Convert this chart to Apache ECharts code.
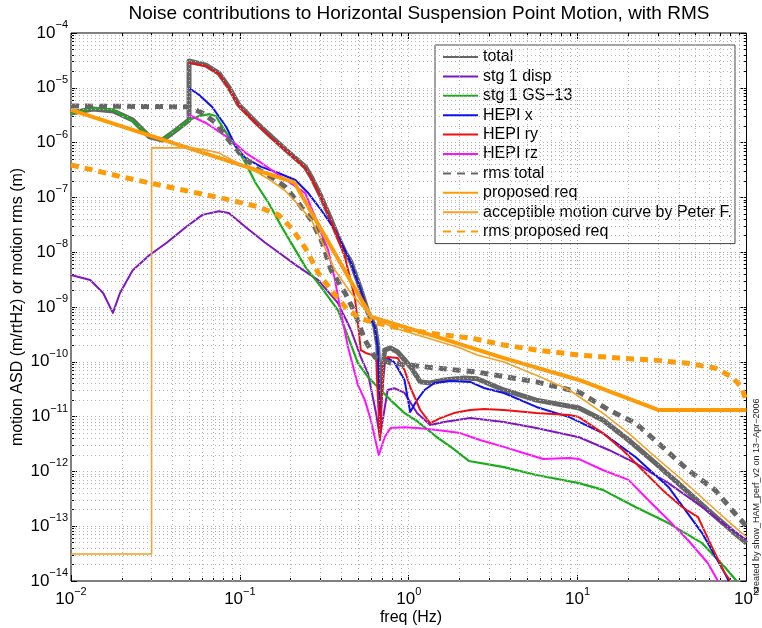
<!DOCTYPE html>
<html><head><meta charset="utf-8">
<script src="https://cdn.jsdelivr.net/npm/echarts@6/dist/echarts.min.js"></script>
<style>html,body{margin:0;padding:0;background:#fff}#c{width:762px;height:628px}</style>
</head><body><div id="c"></div><script>
// ---------- data ----------
const xDecades = [0.01, 0.1, 1, 10, 100];
const yDecades = [1e-14, 1e-13, 1e-12, 1e-11, 1e-10, 1e-9, 1e-8, 1e-7, 1e-6, 1e-5, 1e-4];

const totalF = [0.01,0.0135,0.0178,0.0232,0.0292,0.0348,0.042,0.05,0.05,0.063,0.075,0.086,0.0987,0.124,0.154,0.194,0.244,0.265,0.303,0.347,0.381,0.42,0.455,0.52,0.573,0.63,0.655,0.675,0.72,0.78,0.86,1.03,1.17,1.34,1.62,2.13,2.54,3.66,5.7,10.2,14.1,20,28.9,41.6,59,85,100];
const totalV = [3.47e-6,4.1e-6,3.77e-6,2.58e-6,1.27e-6,1.11e-6,1.7e-6,2.58e-6,3.08e-5,2.6e-5,1.86e-5,1.03e-5,4.85e-6,2.38e-6,1.27e-6,6.7e-7,3.6e-7,2.36e-7,1.02e-7,3.9e-8,1.9e-8,1.0e-8,6.6e-9,2.1e-9,8e-10,4.4e-10,2.0e-10,2e-11,1.64e-10,1.79e-10,1.51e-10,8.0e-11,4.3e-11,4.1e-11,4.66e-11,5.06e-11,4.9e-11,3.06e-11,2.0e-11,1.44e-11,8.7e-12,3.74e-12,1.42e-12,5.2e-13,1.98e-13,7.5e-14,4.9e-14];

const dispF = [0.01,0.013,0.0155,0.0177,0.0195,0.0232,0.0292,0.0367,0.048,0.06,0.075,0.086,0.108,0.142,0.169,0.222,0.291,0.381,0.455,0.52,0.573,0.64,0.675,0.75,0.82,0.944,1.12,1.34,1.62,2.31,3.66,5.7,10.2,15.3,22,34.5,54.6,77.5,100];
const dispV = [3.84e-9,3.1e-9,1.8e-9,7.8e-10,1.8e-9,4.7e-9,8.9e-9,1.47e-8,2.88e-8,4.8e-8,5.6e-8,5.2e-8,2.88e-8,1.47e-8,1.0e-8,5.4e-9,3.1e-9,1.18e-9,3.8e-10,1.22e-10,6.2e-11,1.16e-11,4.2e-12,3.06e-11,3.3e-11,2.7e-11,1.16e-11,7.0e-12,8.0e-12,9.4e-12,8.0e-12,6.2e-12,4.2e-12,2.46e-12,1.42e-12,6.1e-13,2.24e-13,9.7e-14,5.6e-14];

const gsF = [0.01,0.0135,0.0178,0.0232,0.0292,0.0348,0.042,0.05,0.0575,0.066,0.072,0.083,0.095,0.108,0.124,0.148,0.177,0.213,0.244,0.303,0.381,0.437,0.5,0.573,0.655,0.78,0.944,1.12,1.47,1.85,2.27,3.66,5.7,10.2,14.1,22,34.5,54.6,74.3,87.5];
const gsV = [3.3e-6,4.3e-6,3.95e-6,2.48e-6,1.31e-6,1.11e-6,1.7e-6,2.58e-6,3.06e-6,3.3e-6,3.06e-6,1.5e-6,8.3e-7,4.25e-7,1.83e-7,7.9e-8,2.88e-8,1.1e-8,5.4e-9,2.3e-9,8.8e-10,2.84e-10,9.5e-11,5.3e-11,3.47e-11,2.0e-11,1.16e-11,8.3e-12,4.2e-12,2.56e-12,1.55e-12,1.2e-12,8.6e-13,6.1e-13,4.6e-13,2.24e-13,1.14e-13,4.9e-14,1.8e-14,1e-14];

const hxF = [0.05,0.0574,0.0686,0.083,0.095,0.108,0.134,0.169,0.213,0.254,0.303,0.366,0.455,0.52,0.573,0.63,0.655,0.675,0.71,0.75,0.82,0.944,1.02,1.12,1.24,1.42,1.76,2.31,2.79,3.66,5.7,8.93,14.1,22,34.5,54.6,74.3,78.5];
const hxV = [9.9e-6,7.4e-6,4.47e-6,1.93e-6,8.3e-7,5.2e-7,3.6e-7,2.79e-7,2.08e-7,1.2e-7,5.9e-8,2.54e-8,6.4e-9,2.04e-9,7.8e-10,4.3e-10,1.86e-10,6e-12,8.7e-11,1.17e-10,9.9e-11,4.66e-11,1.21e-11,2.0e-11,3.06e-11,4.1e-11,4.47e-11,4.3e-11,3.33e-11,2.7e-11,1.5e-11,9.8e-12,5.0e-12,1.83e-12,5.2e-13,7.5e-14,1.4e-14,1e-14];

const hryF = [0.05,0.063,0.075,0.086,0.0987,0.124,0.154,0.194,0.244,0.265,0.303,0.347,0.381,0.42,0.48,0.5,0.52,0.557,0.596,0.64,0.675,0.71,0.75,0.86,0.944,1.02,1.17,1.34,1.54,1.85,2.31,2.79,3.66,5.7,8.93,10.2,14.1,18.5,24.2,31.8,41.6,51.6,62.4,74.3,80.7];
const hryV = [2.84e-5,2.5e-5,1.79e-5,9.9e-6,4.66e-6,2.28e-6,1.21e-6,6.5e-7,3.4e-7,2.26e-7,9.8e-8,3.7e-8,1.8e-8,7.9e-9,1.45e-9,5.1e-10,1.64e-10,1.45e-10,1.35e-10,1.22e-10,3.7e-12,9.9e-11,1.22e-10,1.17e-10,7.1e-11,3.47e-11,1.32e-11,7.6e-12,9.4e-12,1.16e-11,1.32e-11,1.37e-11,1.32e-11,1.16e-11,1.07e-11,9.8e-12,5.0e-12,2.46e-12,1.06e-12,4.6e-13,2.24e-13,1.47e-13,4.2e-14,1.4e-14,1e-14];

const hrzF = [0.05,0.063,0.086,0.108,0.134,0.177,0.244,0.279,0.303,0.333,0.366,0.397,0.437,0.5,0.55,0.596,0.665,0.72,0.78,0.944,1.12,1.47,2.02,2.64,3.66,4.78,6.26,8.93,10.2,14.1,20,26.2,34.5,45,59,67.8];
const hrzV = [3.19e-6,2.28e-6,1.21e-6,6.5e-7,4.25e-7,2.36e-7,1.2e-7,4.4e-8,2.24e-8,1.1e-8,3.1e-9,7.8e-10,1.86e-10,3.77e-11,2.0e-11,8.7e-12,1.99e-12,4.2e-12,6.2e-12,6.4e-12,6.2e-12,5.7e-12,5.0e-12,3.74e-12,2.8e-12,2.17e-12,1.68e-12,1.75e-12,1.68e-12,1.06e-12,7.0e-13,3.0e-13,1.3e-13,5.6e-14,2.13e-14,1e-14];

const rmsTotF = [0.01,0.05,0.06,0.072,0.086,0.102,0.129,0.154,0.186,0.222,0.265,0.303,0.347,0.42,0.48,0.55,0.63,0.78,1.29,2.54,5.7,10.2,15.3,22,31.8,45,65,85,100];
const rmsTotV = [4.66e-6,4.5e-6,3.47e-6,2.28e-6,1.11e-6,5.9e-7,3.16e-7,2.36e-7,1.55e-7,7.9e-8,3.87e-8,1.67e-8,4.7e-9,1.8e-9,7.8e-10,2.5e-10,1.22e-10,9.5e-11,8.0e-11,6.5e-11,4.3e-11,2.8e-11,1.32e-11,7.6e-12,2.8e-12,1.06e-12,4.6e-13,1.74e-13,1.0e-13];

const propF = [0.01,0.21,0.6,1.47,3.66,10.2,17.5,30,100];
const propV = [3.94e-6,1.88e-7,6.6e-10,2.84e-10,1.17e-10,4.66e-11,2.48e-11,1.32e-11,1.32e-11];

const peterF = [0.01,0.03,0.03,0.052,0.063,0.075,0.09,0.108,0.129,0.154,0.186,0.222,0.265,0.303,0.366,0.455,0.6,0.82,1.29,2.02,2.54,3.66,5.7,8.93,14.1,20,28.9,41.6,59,85,100];
const peterV = [3.1e-14,3.1e-14,8.0e-7,8.0e-7,7.3e-7,6.5e-7,4.8e-7,3.6e-7,2.79e-7,1.99e-7,1.31e-7,7.3e-8,3.87e-8,1.67e-8,4.7e-9,1.8e-9,6.6e-10,4.14e-10,2.72e-10,1.79e-10,1.33e-10,9.9e-11,5.7e-11,3.06e-11,1.16e-11,5.0e-12,1.83e-12,7.0e-13,2.65e-13,9.7e-14,6.4e-14];

const rmsPropF = [0.01,0.0135,0.0214,0.0334,0.052,0.083,0.129,0.169,0.202,0.244,0.291,0.347,0.42,0.5,0.573,0.82,1.29,2.31,3.66,5.7,10.2,17.5,27.7,43.3,65,81.8,93.5,100];
const rmsPropV = [3.9e-7,3.16e-7,2.26e-7,1.68e-7,1.26e-7,9.3e-8,6.7e-8,4.8e-8,2.77e-8,1.19e-8,4.2e-9,2.04e-9,1.0e-9,6.6e-10,5.6e-10,4.3e-10,3.36e-10,2.72e-10,2.03e-10,1.64e-10,1.33e-10,1.17e-10,1.08e-10,9.5e-11,7.7e-11,5.3e-11,3.47e-11,1.85e-11];

const names = ['total','stg 1 disp','stg 1 GS\u221213','HEPI x','HEPI ry','HEPI rz','rms total','proposed req','acceptible motion curve by Peter F.','rms proposed req'];

// ---------- chart ----------
const FONT = "'Liberation Sans', Arial, Helvetica, sans-serif";
const X0 = 0.01, X1 = 100, Y0 = 1e-14, Y1 = 1e-4;
const zip = (f, v) => f.map((x, i) => [x, v[i]]);

// minor grid / tick positions (2..9 times each decade)
const minorX = [], minorY = [];
for (let i = 0; i < xDecades.length - 1; i++) for (let k = 2; k <= 9; k++) minorX.push(xDecades[i] * k);
for (let i = 0; i < yDecades.length - 1; i++) for (let k = 2; k <= 9; k++) minorY.push(yDecades[i] * k);

function supLabel(v) {
  const e = Math.round(Math.log10(v));
  return '{b|10}{s|' + (e < 0 ? '\u2212' + (-e) : String(e)) + '}';
}
const rich = {
  b: { fontSize: 17, fontFamily: FONT, color: '#000', lineHeight: 22, verticalAlign: 'bottom' },
  s: { fontSize: 11, fontFamily: FONT, color: '#000', lineHeight: 22, verticalAlign: 'top' }
};

function lineSeries(name, f, v, color, width, dash) {
  return {
    name, type: 'line', data: zip(f, v), symbol: 'none', showSymbol: false,
    lineStyle: { color, width, type: dash || 'solid', cap: 'butt', join: 'round' },
    itemStyle: { color }, emphasis: { disabled: true }, z: 3, animation: false
  };
}
function xAx(pos, ticks, len, labels) {
  return {
    type: 'log', logBase: 10, min: X0, max: X1, position: pos,
    axisLine: { show: false }, splitLine: { show: false },
    axisTick: { show: true, inside: true, length: len, customValues: ticks, lineStyle: { color: '#000', width: 1 } },
    axisLabel: labels ? { show: true, customValues: xDecades, formatter: supLabel, rich, margin: 5 } : { show: false }
  };
}
function yAx(pos, ticks, len, labels) {
  return {
    type: 'log', logBase: 10, min: Y0, max: Y1, position: pos,
    axisLine: { show: false }, splitLine: { show: false },
    axisTick: { show: true, inside: true, length: len, customValues: ticks, lineStyle: { color: '#000', width: 1 } },
    axisLabel: labels ? { show: true, customValues: yDecades, formatter: supLabel, rich, margin: 3, padding: [0, 0, 5, 0] } : { show: false }
  };
}

const gridLineData = []
  .concat(xDecades.slice(1, -1).concat(minorX).map(v => [{ coord: [v, Y0] }, { coord: [v, Y1] }]))
  .concat(yDecades.slice(1, -1).concat(minorY).map(v => [{ coord: [X0, v] }, { coord: [X1, v] }]));

const chart = echarts.init(document.getElementById('c'), null, { renderer: 'canvas', width: 762, height: 628 });
chart.setOption({
  animation: false,
  backgroundColor: '#fff',
  grid: { left: 71, right: 10, top: 33, bottom: 47, show: true, borderColor: '#000', borderWidth: 1, containLabel: false },
  xAxis: [xAx('bottom', xDecades, 6, true), xAx('bottom', minorX, 3, false), xAx('top', xDecades, 6, false), xAx('top', minorX, 3, false)],
  yAxis: [yAx('left', yDecades, 6, true), yAx('left', minorY, 3, false), yAx('right', yDecades, 6, false), yAx('right', minorY, 3, false)],
  legend: {
    data: names, orient: 'vertical', left: 435, top: 45, selectedMode: false,
    itemWidth: 35, itemHeight: 14, itemGap: 3.4,
    padding: [4, 3, 4, 7],
    backgroundColor: '#fff', borderColor: '#444', borderWidth: 1,
    itemStyle: { opacity: 0 },
    textStyle: { fontSize: 16, fontFamily: FONT, color: '#000', lineHeight: 16 }
  },
  graphic: [
    { type: 'text', x: 419, y: 4, style: { text: 'Noise contributions to Horizontal Suspension Point Motion, with RMS', font: '19px ' + FONT, fill: '#000', textAlign: 'center', textVerticalAlign: 'top' } },
    { type: 'text', x: 411, y: 618, style: { text: 'freq (Hz)', font: '16px ' + FONT, fill: '#000', textAlign: 'center', textVerticalAlign: 'middle' } },
    { type: 'text', x: 18, y: 307, rotation: Math.PI / 2, style: { text: 'motion ASD (m/rtHz) or motion rms (m)', font: '16px ' + FONT, fill: '#000', textAlign: 'center', textVerticalAlign: 'middle' } },
    { type: 'text', x: 757, y: 496, rotation: Math.PI / 2, style: { text: 'created by show_HAM_perf_v2 on 13\u2212Apr\u22122006', font: '9px ' + FONT, fill: '#222', textAlign: 'center', textVerticalAlign: 'middle' } }
  ],
  series: [
    {
      name: '_grid', type: 'line', data: [], symbol: 'none', z: 1, silent: true,
      markLine: { silent: true, symbol: 'none', animation: false, label: { show: false },
        lineStyle: { color: '#b4b4b4', width: 1, type: [1, 3] }, emphasis: { disabled: true },
        data: gridLineData }
    },
    lineSeries(names[0], totalF, totalV, '#666666', 5),
    lineSeries(names[1], dispF, dispV, '#7f16c0', 2),
    lineSeries(names[2], gsF, gsV, '#1aad1a', 2.2),
    lineSeries(names[3], hxF, hxV, '#1010ee', 2),
    lineSeries(names[4], hryF, hryV, '#ee1010', 2),
    lineSeries(names[5], hrzF, hrzV, '#ff10ff', 2),
    lineSeries(names[6], rmsTotF, rmsTotV, '#666666', 5, [8, 6]),
    lineSeries(names[7], propF, propV, '#ff9a00', 4),
    lineSeries(names[8], peterF, peterV, '#f5a020', 1.6),
    lineSeries(names[9], rmsPropF, rmsPropV, '#ff9a00', 5, [8, 6])
  ]
});
</script></body></html>
